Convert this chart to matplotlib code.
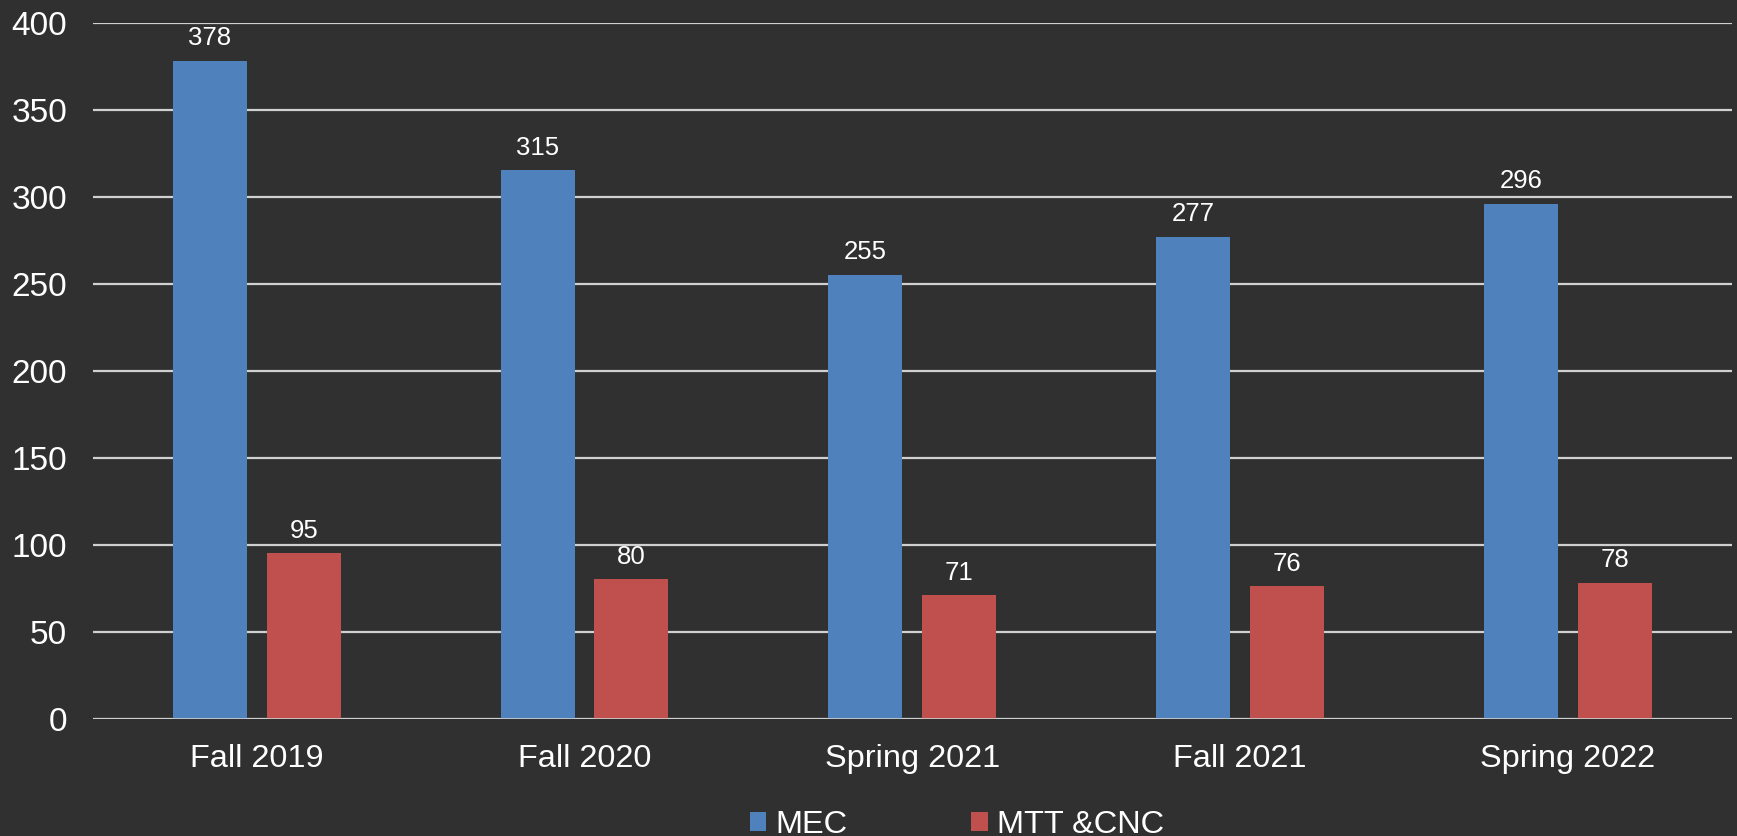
import matplotlib
matplotlib.use("Agg")
import matplotlib.pyplot as plt
import numpy as np
from matplotlib.patches import Patch

categories = ["Fall 2019", "Fall 2020", "Spring 2021", "Fall 2021", "Spring 2022"]
mec = [378, 315, 255, 277, 296]
mtt = [95, 80, 71, 76, 78]
series_names = ["MEC", "MTT &CNC"]
yticks = [0, 50, 100, 150, 200, 250, 300, 350, 400]

BG = "#303030"
BLUE = "#4F81BD"
RED = "#C0504D"
GRID = "#D0D0D0"

plt.rcParams['font.family'] = ['Liberation Sans', 'DejaVu Sans']

fig = plt.figure(figsize=(17.37, 8.36), dpi=100, facecolor=BG)
ax = fig.add_axes([0.0535, 0.1405, 0.9435, 0.8325])
ax.set_facecolor(BG)

x = np.arange(len(categories))
w = 0.2257
off = 0.143
b1 = ax.bar(x - off, mec, w, color=BLUE, zorder=3)
b2 = ax.bar(x + off, mtt, w, color=RED, zorder=3)

for bars, vals in ((b1, mec), (b2, mtt)):
    for r, v in zip(bars, vals):
        ax.annotate(str(v), (r.get_x() + r.get_width() / 2, v), xytext=(0, 7.5),
                    textcoords="offset points", ha="center", va="bottom",
                    color="white", fontsize=18.5)

ax.set_xlim(-0.5, len(categories) - 0.5)
ax.set_ylim(0, 400)
ax.set_yticks(yticks)
ax.set_xticks(x)
ax.set_xticklabels(categories)
ax.tick_params(axis='y', length=0, pad=18.5, labelsize=24, colors="white")
ax.tick_params(axis='x', length=0, pad=18, labelsize=23.4, colors="white")
ax.grid(axis='y', color=GRID, linewidth=1.6, zorder=0)
for s in ax.spines.values():
    s.set_visible(False)
ax.axhline(0, color=GRID, linewidth=1.9, zorder=4)

handles = [Patch(facecolor=BLUE, label=series_names[0]), Patch(facecolor=RED, label=series_names[1])]
leg = fig.legend(handles=handles, loc="center", ncol=2,
                 frameon=False, fontsize=23.4, handlelength=0.5, handleheight=0.5,
                 handletextpad=0.3, columnspacing=3.8, labelcolor="white",
                 bbox_to_anchor=(0.551, 1 - 825 / 836), bbox_transform=fig.transFigure)

fig.savefig("out.png", dpi=100, facecolor=BG)
